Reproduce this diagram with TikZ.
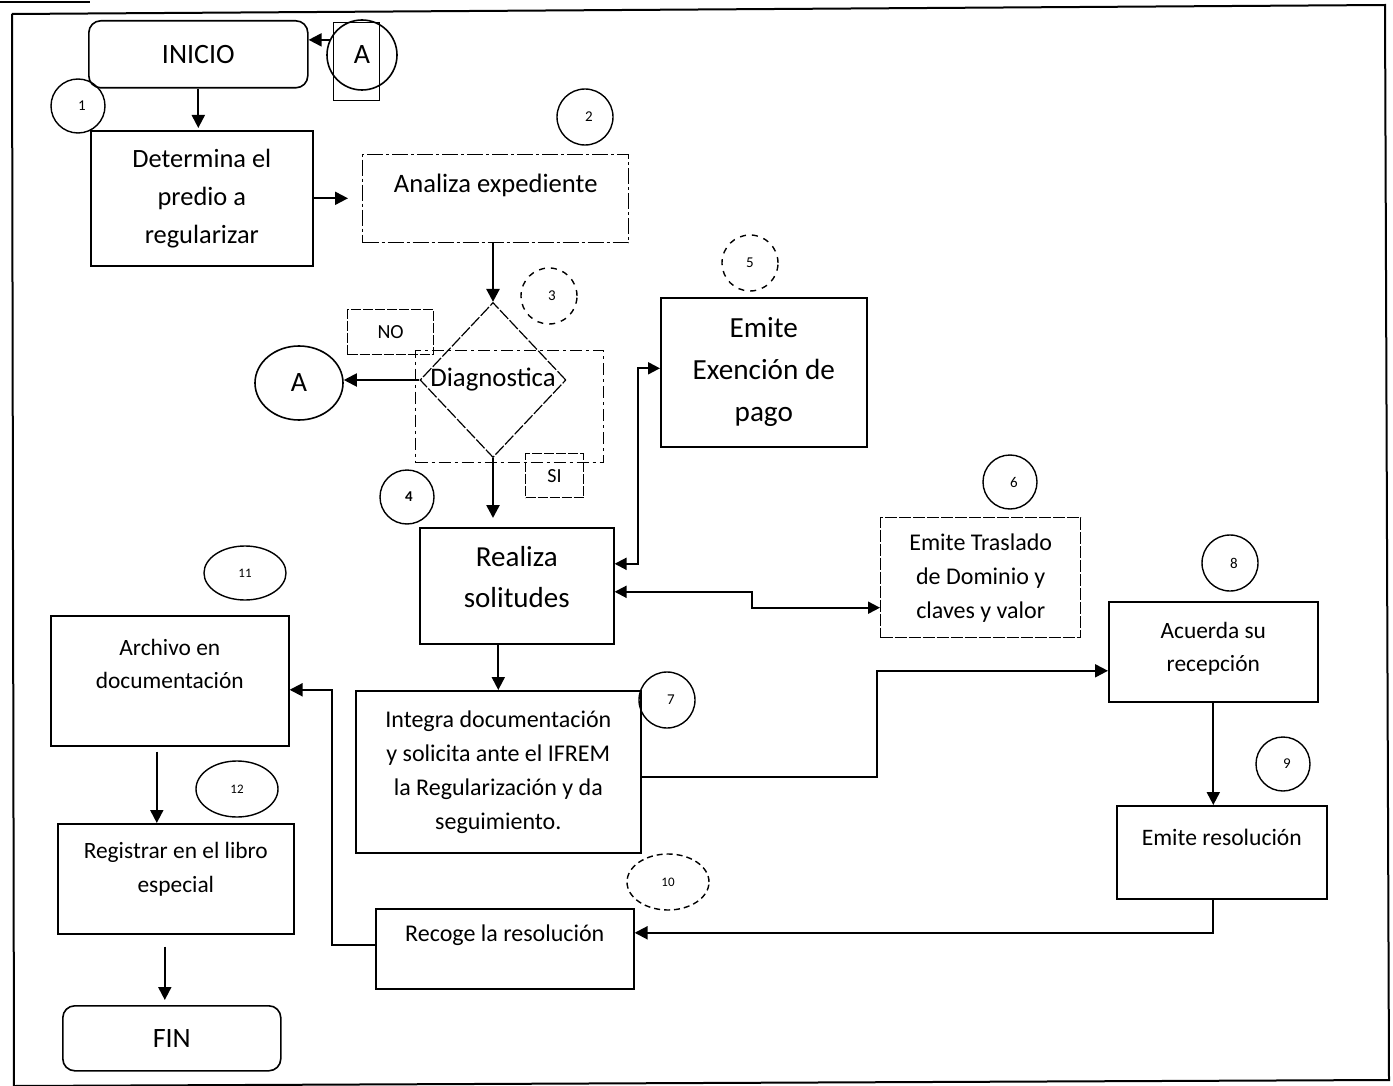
\documentclass[tikz,border=0pt]{standalone}
\usepackage{fontspec}
\setmainfont{Carlito}
\usetikzlibrary{arrows.meta,shapes.geometric,calc}
\newcommand\fsz[2]{\fontsize{#1}{#2}\selectfont}

\begin{document}
\begin{tikzpicture}[x=0.5pt,y=-0.5pt,
  every node/.style={inner sep=0pt, align=center},
  box/.style={draw, line width=0.8pt, anchor=north west},
  num/.style={draw, circle, line width=0.7pt, minimum size=27pt, font=\fsz{7.5}{9}},
  numell/.style={draw, ellipse, line width=0.7pt, font=\fsz{6.5}{8}},
  arr/.style={line width=1pt, -{Triangle[length=6.5pt,width=6.5pt]}},
  darr/.style={line width=1pt, {Triangle[length=6pt,width=6pt]}-{Triangle[length=6pt,width=6pt]}},
]
\useasboundingbox (0,0) rectangle (1393,1086);

% page frame
\draw[line width=1pt] (12,14) -- (1385,5) -- (1389,1080) -- (14,1086);
\draw[line width=1pt] (14,1086) -- (12,14);
\draw[line width=0.8pt] (0,2) -- (90,2);

% start / end terminals
\node[box, rounded corners=6pt, minimum width=109.5pt, minimum height=33.5pt, font=\fsz{14}{17}] (inicio) at (88,20) {INICIO};
\node[box, rounded corners=6pt, minimum width=109pt, minimum height=32.5pt, font=\fsz{14}{17}] (fin) at (62,1005) {FIN};

% connector A at the top
\node[draw, line width=0.6pt, anchor=north west, minimum width=23pt, minimum height=39pt] (Arect) at (333,22) {};
\node[draw, circle, line width=0.8pt, minimum size=35pt, font=\fsz{14}{17}] (Atop) at (362,55) {A};

% process boxes
\node[box, minimum width=111pt, minimum height=67.5pt, font=\fsz{13.2}{19}] (det) at (90,130) {Determina el\\predio a\\regularizar};
\node[box, dash pattern=on 8pt off 1.5pt on 1.5pt off 1.5pt, line width=0.7pt, minimum width=133pt, minimum height=44pt, font=\fsz{13.3}{15}] (ana) at (362,154) {Analiza expediente\\\mbox{}};
\node[box, minimum width=103pt, minimum height=74.5pt, font=\fsz{14.6}{21}] (exen) at (660,297) {Emite\\Exención de\\pago};
\node[box, minimum width=97pt, minimum height=58pt, font=\fsz{14.5}{20.5}] (real) at (419,527) {Realiza\\solitudes\\[-12pt]\mbox{}};
\node[box, dash pattern=on 6pt off 1pt, line width=0.7pt, minimum width=100pt, minimum height=60pt, font=\fsz{12}{17}] (tras) at (880,517) {Emite Traslado\\de Dominio y\\claves y valor};
\node[box, minimum width=142.5pt, minimum height=81pt, font=\fsz{12}{17}] (integ) at (355,690) {Integra documentación\\y solicita ante el IFREM\\la Regularización y da\\seguimiento.};
\node[box, minimum width=104.5pt, minimum height=50pt, font=\fsz{11.7}{16.5}] (acu) at (1108,601) {Acuerda su\\recepción\\[-11.5pt]\mbox{}};
\node[box, minimum width=105pt, minimum height=46.5pt, font=\fsz{11.8}{15.5}] (res) at (1116,805) {Emite resolución\\\mbox{}};
\node[box, minimum width=129pt, minimum height=40pt, font=\fsz{12}{16}] (rec) at (375,908) {Recoge la resolución\\\mbox{}};
\node[box, minimum width=119pt, minimum height=65pt, font=\fsz{11.7}{16.5}] (arch) at (50,615) {Archivo en\\documentación\\\mbox{}};
\node[box, minimum width=118pt, minimum height=55pt, font=\fsz{11.7}{17}] (reg) at (57,823) {Registrar en el libro\\especial\\[-6pt]\mbox{}};

% decision
\node[box, dash pattern=on 6pt off 2pt on 1.5pt off 2pt, line width=0.6pt, minimum width=94pt, minimum height=56pt] (diarect) at (415,350) {};
\node[draw, diamond, line width=0.6pt, dash pattern=on 6pt off 1pt, minimum width=73pt, minimum height=77.5pt] (dia) at (493,380) {};
\node[font=\fsz{13.4}{16}] (diatext) at (dia.center) {Diagnostica};
\node[box, dash pattern=on 5pt off 1pt, line width=0.6pt, minimum width=43pt, minimum height=22.5pt, font=\fsz{10}{12}] (no) at (347,309) {NO};
\node[box, dash pattern=on 5pt off 1pt, line width=0.6pt, minimum width=29pt, minimum height=22pt, font=\fsz{10}{12}] (si) at (525,453) {SI};
\node[draw, ellipse, line width=0.8pt, minimum width=44pt, minimum height=37pt, font=\fsz{14}{17}] (Aleft) at (299,383) {A};

% step numbers
\node[num] (n1) at (78,106) {\kern4pt 1};
\node[num, minimum size=28pt] (n2) at (585,117) {\kern4pt 2};
\node[num, dashed, minimum size=28pt] (n3) at (549,296) {\kern3pt 3};
\node[num] (n4) at (407,497) {\kern2pt\bfseries 4};
\node[num, dashed, minimum size=28pt] (n5) at (750,263) {5};
\node[num] (n6) at (1010,482) {\kern4pt 6};
\node[num, minimum size=28pt] (n7) at (667,700) {\kern4pt 7};
\node[num, minimum size=28pt] (n8) at (1230,563) {\kern4pt 8};
\node[num] (n9) at (1283,764) {\kern4pt 9};
\node[numell, densely dashed, minimum width=41pt, minimum height=28pt] (n10) at (668,882) {10};
\node[numell, minimum width=41pt, minimum height=27pt] (n11) at (245,573) {11};
\node[numell, minimum width=41pt, minimum height=28pt] (n12) at (237,789) {12};

% connectors
\draw[arr] (Atop.155) -- (Atop.155 -| inicio.east);
\draw[arr, shorten >=1pt] (inicio.south) -- (inicio.south |- det.north);
\draw[arr, shorten >=7pt] (det.east) -- (det.east -| ana.west);
\draw[arr, line width=1.3pt] (dia.north |- ana.south) -- (dia.north);
\draw[arr] (dia.west) -- (dia.west -| Aleft.east);
\draw[arr, line width=1.3pt, shorten >=4.5pt] (dia.south) -- (dia.south |- real.north);
\draw[darr] ([yshift=11pt]real.east) -- ++(11.5pt,0) |- ([yshift=2pt]exen.west);
\draw[darr] ([yshift=-3pt]real.east) -- ++(68.5pt,0) |- ([yshift=-15pt]tras.west);
\draw[arr] (integ.north |- real.south) -- (integ.north);
\draw[arr] ([yshift=-2.5pt]integ.east) -- ++(117.5pt,0) |- ([yshift=-9.5pt]acu.west);
\draw[arr] (acu.south) -- (acu.south |- res.north);
\draw[arr] (res.south -| acu.south) |- ([yshift=8pt]rec.east);
\draw[arr] ([yshift=2pt]rec.west) -- ++(-21.5pt,0) |- ([yshift=-4.5pt]arch.east);
\draw[arr, shorten <=2.5pt] ([xshift=-6.5pt]arch.south) -- ([xshift=-6.5pt]arch.south |- reg.north);
\draw[arr, shorten <=6pt, shorten >=2.5pt] ([xshift=-5.5pt]reg.south) -- ([xshift=-5.5pt]reg.south |- fin.north);
\end{tikzpicture}
\end{document}
